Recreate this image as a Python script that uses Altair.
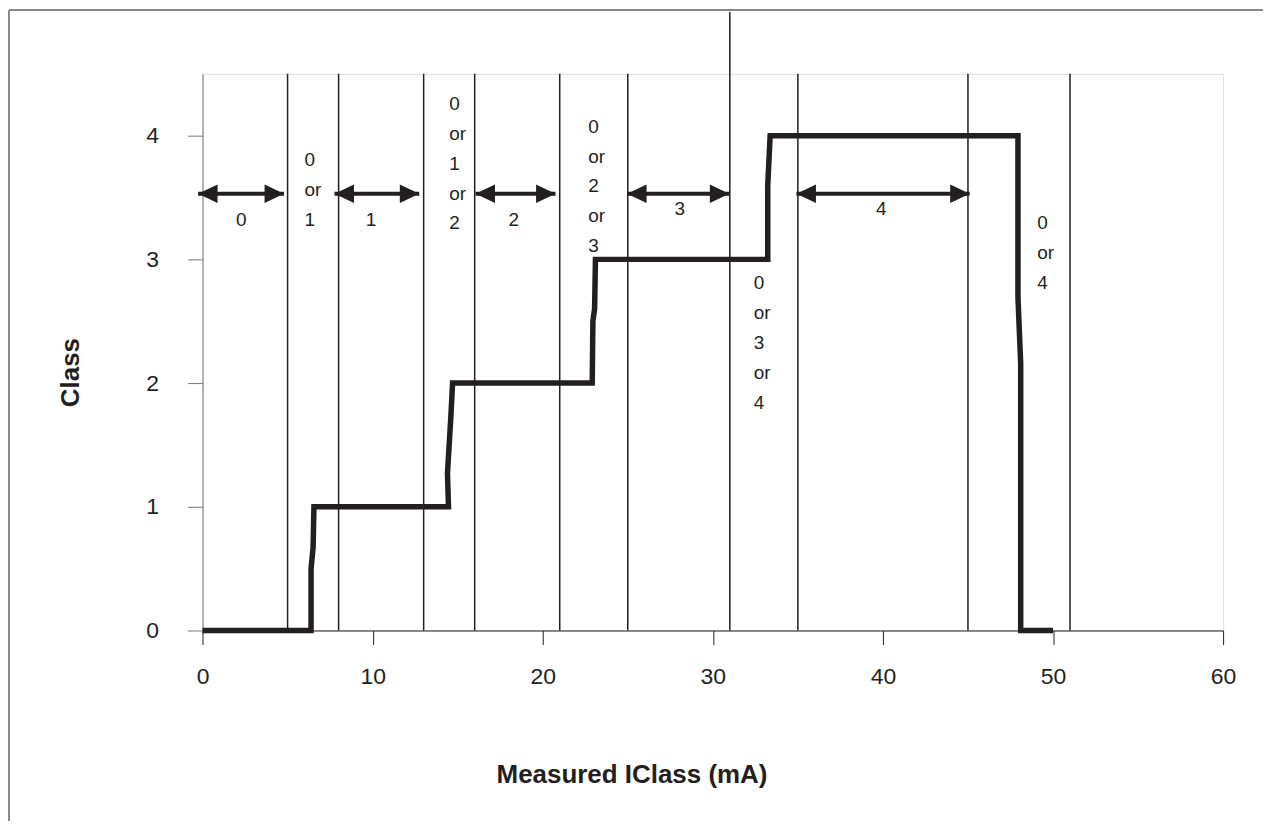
import altair as alt
import pandas as pd

# ---- data ----
step_x = [0, 6.38, 6.38, 6.5, 6.55, 14.46, 14.4, 14.6, 14.7, 22.91, 22.95, 23.05, 23.1,
          33.23, 33.23, 33.37, 47.94, 47.94, 48.1, 48.1, 50]
step_y = [0, 0, 0.5, 0.67, 1.0, 1.0, 1.27, 1.73, 2.0, 2.0, 2.5, 2.6, 3.0,
          3.0, 3.6, 4.0, 4.0, 2.69, 2.16, 0, 0]

bound_x = [5, 8, 13, 16, 21, 25, 31, 35, 45, 51]
bound_top = [4.5, 4.5, 4.5, 4.5, 4.5, 4.5, 5.0, 4.5, 4.5, 4.5]

arrow_start = [-0.26, 7.76, 16.05, 24.96, 34.92]
arrow_end = [4.79, 12.74, 20.75, 30.97, 45.1]
arrow_y = [3.53, 3.53, 3.53, 3.53, 3.53]
arrow_label = ["0", "1", "2", "3", "4"]
arrow_label_x = [2.27, 9.91, 18.3, 28.05, 39.9]
arrow_label_y = [3.315, 3.315, 3.315, 3.41, 3.41]

stack_text = ["0\nor\n1", "0\nor\n1\nor\n2", "0\nor\n2\nor\n3", "0\nor\n3\nor\n4", "0\nor\n4"]
stack_x = [6.0, 14.5, 22.67, 32.4, 49.07]
stack_y = [3.80, 4.258, 4.073, 2.806, 3.29]  # centre of the first line

x_ticks = [0, 10, 20, 30, 40, 50, 60]
y_ticks = [0, 1, 2, 3, 4]

FONT = "Liberation Sans"
INK = "#231f20"

xscale = alt.Scale(domain=[0, 60], nice=False, zero=False)
yscale = alt.Scale(domain=[0, 4.5], nice=False, zero=False)

xaxis = alt.Axis(values=x_ticks, grid=False, tickSize=14, tickColor=INK, domainColor=INK,
                 labelFont=FONT, labelFontSize=23, labelColor=INK, labelPadding=21,
                 labelFlush=False, title="Measured IClass (mA)", titleFont=FONT,
                 titleFontSize=26, titleFontWeight="bold", titleColor=INK,
                 titleX=430, titleY=152, titleAlign="center", titleBaseline="alphabetic")
yaxis = alt.Axis(values=y_ticks, grid=False, tickSize=15, tickColor="#777", domainColor="#777",
                 labelFont=FONT, labelFontSize=23, labelColor=INK, labelPadding=29,
                 labelFlush=False, title="Class", titleFont=FONT, titleFontSize=26,
                 titleFontWeight="bold", titleColor=INK, titleX=-124, titleY=299,
                 titleAngle=-90, titleAlign="center", titleBaseline="alphabetic")

X = lambda f="x": alt.X(f"{f}:Q", scale=xscale, axis=xaxis)
Y = lambda f="y": alt.Y(f"{f}:Q", scale=yscale, axis=yaxis)

one = pd.DataFrame({"a": [0]})
frame_left = alt.Chart(one).mark_rule(color="#888", strokeWidth=2).encode(
    x=alt.value(-194), y=alt.value(-64), y2=alt.value(760))
frame_top = alt.Chart(one).mark_rule(color="#888", strokeWidth=2).encode(
    x=alt.value(-194), x2=alt.value(1080), y=alt.value(-64))

bounds_df = pd.DataFrame({"x": bound_x, "y": [0] * len(bound_x), "y2": bound_top})
bounds = alt.Chart(bounds_df).mark_rule(color=INK, strokeWidth=1.5).encode(
    x=X(), y=Y(), y2="y2:Q")

step_df = pd.DataFrame({"x": step_x, "y": step_y, "i": list(range(len(step_x)))})
step = alt.Chart(step_df).mark_line(color=INK, strokeWidth=5.5, strokeJoin="miter",
                                    strokeCap="butt").encode(
    x=X(), y=Y(), order="i:Q")

arr_df = pd.DataFrame({"x": arrow_start, "x2": arrow_end, "y": arrow_y})
shafts = alt.Chart(arr_df).mark_rule(color=INK, strokeWidth=4).encode(
    x=X(), x2="x2:Q", y=Y())
heads_r = alt.Chart(arr_df).mark_point(shape="M0,0L-2,-0.95L-2,0.95Z", filled=True,
                                       size=380, color=INK, opacity=1, strokeWidth=0).encode(
    x=X("x2"), y=Y())
heads_l = alt.Chart(arr_df).mark_point(shape="M0,0L2,-0.95L2,0.95Z", filled=True,
                                       size=380, color=INK, opacity=1, strokeWidth=0).encode(
    x=X(), y=Y())

lab_df = pd.DataFrame({"x": arrow_label_x, "y": arrow_label_y, "t": arrow_label})
labels = alt.Chart(lab_df).mark_text(font=FONT, fontSize=19, color=INK, align="center",
                                     baseline="middle").encode(
    x=X(), y=Y(), text="t:N")

stack_df = pd.DataFrame({"x": stack_x, "y": stack_y, "t": stack_text})
stacks = alt.Chart(stack_df).mark_text(font=FONT, fontSize=19, color=INK, align="left",
                                       baseline="middle", lineBreak="\n", lineHeight=30).encode(
    x=X(), y=Y(), text="t:N")

chart = alt.layer(frame_left, frame_top, bounds, step, shafts, heads_r, heads_l, labels, stacks
                  ).properties(
    width=1023, height=558,
    autosize=alt.AutoSizeParams(type="none"),
    padding={"left": 195, "top": 65, "right": 40, "bottom": 190},
).configure_view(stroke=None).configure(background="white")

chart.save("out.html", embed_options={"renderer": "svg", "actions": False})
